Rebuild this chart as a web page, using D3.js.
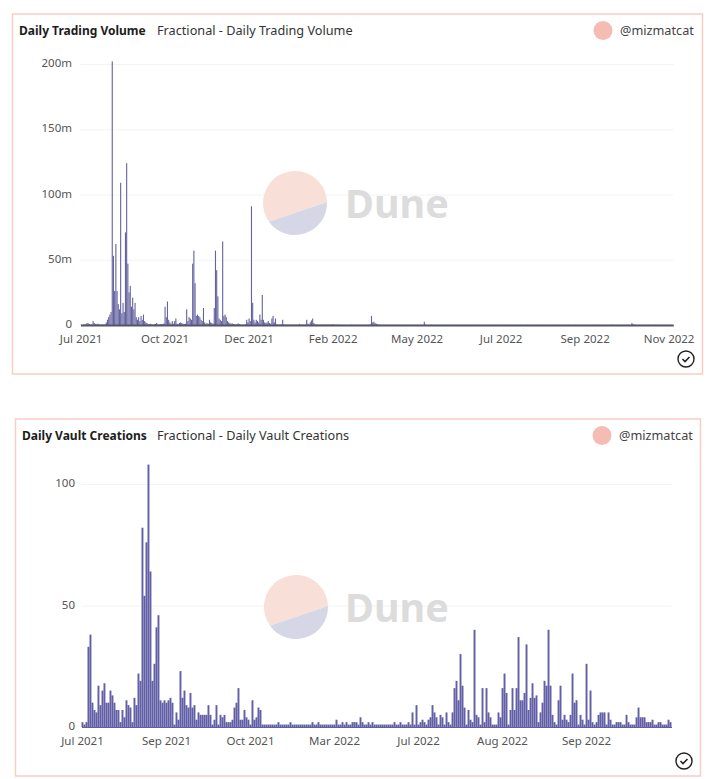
<!DOCTYPE html>
<html>
<head>
<meta charset="utf-8">
<script src="https://cdnjs.cloudflare.com/ajax/libs/d3/7.8.5/d3.min.js"></script>
<style>
body { margin: 0; background: #fff; }
text { font-family: "Noto Sans", sans-serif; }
.tick line { display: none; }
</style>
</head>
<body>
<div id="chart"></div>
<script>
// daily trading volume, in millions
var volumeValues = [
    .3,.2,.4,.3,.8,1.5,1.2,.6,.4,.5,3,1.5,.8,.6,1,.5,.4,.3,.4,.3,
    .6,2,4,6,8,10,202,53,26,62,26,16,12,109,9,17,10,71,124,47,
    25,30,14,21,12,17,6,4,6,3,7,4,8,3,2,1.5,.8,.6,1,.5,
    .4,.6,.8,1.5,.6,.4,.8,.6,.7,1.2,14,6,18,4,2,1,3,1,3,5,
    1,.8,1.5,2,1.5,1,.8,1,12,3,6,5,4,47,57,32,7,8,7,6,
    4,3,13,2,1,1.5,1,4,2,1.5,1,13,57,42,22,5,4,3,64,7,
    8,6,3,2,1.5,1,1.2,.8,.6,.5,.8,1.2,.6,.4,.3,.2,.3,.5,4,2,
    5,3,91,17,4,2,4,3,2,8,4,23,4,2,1.5,2,3,1.5,1,5,
    7,2,5,.5,.4,.3,.5,.3,4,.5,.3,.2,.3,.2,.2,.4,.3,.2,.3,.2,
    .3,.2,.8,.3,.2,.4,.2,.3,4,1,.5,2,3.5,5,1.5,.6,.4,.3,.2,.3,
    .2,.3,.2,.5,.3,.2,.4,.2,.3,.5,.6,.3,.2,.2,.4,.2,.2,.1,.2,.1,
    .2,.1,.1,.2,.1,.3,.1,.1,.2,.1,.1,.2,.1,.1,.1,.2,.1,.1,.2,.1,
    .3,.4,7,2,2.5,1.5,1,.6,.3,.2,.1,.1,.2,.1,.1,.1,.2,.1,.1,.1,
    .1,.1,.2,.1,.1,.1,.1,.2,.1,.1,.1,.1,.1,.1,.2,.1,.1,.1,.1,.1,
    .1,.1,.1,.2,.1,.1,2.5,.3,.1,.1,.1,.1,.2,.1,.1,.1,.1,.1,.1,.1,
    .1,.1,.1,.1,.1,.2,.1,.1,.1,.1,.1,.1,.1,.1,.1,.1,.1,.2,.1,.1,
    .1,.1,.1,.1,.2,.1,.1,.1,.1,.1,.1,.1,.1,.1,.1,.1,.1,.1,.1,.1,
    .1,.2,.1,.1,.1,.1,.1,.1,.1,.1,.1,.1,.1,.2,.1,.1,.1,.1,.1,.1,
    .1,.1,.1,.1,.1,.1,.2,.1,.1,.1,.1,.1,.1,.1,.1,.1,.1,.1,.1,.1,
    .1,.1,.1,.1,.2,.1,.1,.1,.1,.1,.1,.1,.1,.1,.1,.1,.1,.1,.2,.1,
    .1,.1,.1,.1,.1,.1,.1,.1,.1,.1,.1,.1,.2,.1,.1,.1,.1,.1,.1,.1,
    .1,.1,.1,.1,.1,.1,.1,.1,.2,.1,.1,.1,.1,.1,.1,.1,.1,.1,.1,.1,
    .1,.1,.2,.1,.1,.1,.1,.1,.1,.1,.1,.1,.1,.1,.1,.1,.1,.1,.1,1.5,
    .6,.3,.2,.1,.1,.1,.1,.1,.1,.1,.1,.1,.1,.2,.1,.1,.1,.1,.1,.1,
    .1,.1,.1,.1,.1,.1,.1,.1,.1,.1,.1,.1,.1,.1
];
var volumeTicks = ["Jul 2021", "Oct 2021", "Dec 2021", "Feb 2022", "May 2022", "Jul 2022", "Sep 2022", "Nov 2022"];
var volumeYTicks = [0, 50, 100, 150, 200];

// vaults created per day
var vaultValues = [
    2,1,2,33,38,10,7,6,17,9,15,18,10,10,15,13,10,7,7,2,
    7,4,11,9,8,2,12,9,22,19,82,54,76,108,64,19,26,41,46,11,
    10,11,10,11,12,10,1,6,3,23,12,15,9,8,14,8,9,3,6,5,
    5,5,5,9,5,1,3,9,1,5,4,5,2,2,2,3,8,10,16,3,
    3,7,4,3,1,11,3,4,8,7,1,1,1,1,1,1,1,1,2,1,
    1,1,1,1,2,1,1,1,1,1,1,1,1,1,1,2,1,1,2,1,
    1,1,1,1,1,1,1,3,1,1,2,1,2,1,1,2,2,2,1,4,
    2,1,1,2,1,2,1,1,1,1,1,1,1,1,1,1,2,1,1,2,
    1,1,1,2,1,6,1,9,1,2,3,2,1,3,4,9,6,4,1,5,
    4,1,6,2,1,6,16,19,11,30,17,8,1,7,3,2,40,5,4,1,
    16,2,16,6,4,1,1,1,6,4,16,22,14,1,7,16,7,16,37,11,
    11,14,34,7,12,18,12,13,2,6,10,19,17,40,17,5,2,1,11,17,
    3,5,3,2,5,22,10,11,1,5,3,1,26,3,15,2,1,2,5,6,
    6,6,1,6,3,1,1,2,2,2,1,1,5,2,1,1,1,4,8,4,
    4,4,2,2,2,3,1,1,2,2,1,1,1,3,2
];
var vaultTicks = ["Jul 2021", "Sep 2021", "Oct 2021", "Mar 2022", "Jul 2022", "Aug 2022", "Sep 2022"];
var vaultYTicks = [0, 50, 100];

var tickEvery = [70, 42];

var svg = d3.select("#chart").append("svg")
    .attr("width", 709)
    .attr("height", 779)
    .style("display", "block");

function plotPanel(p) {
    var g = svg.append("g");

    // card
    g.append("rect")
        .attr("x", p.box[0]).attr("y", p.box[1])
        .attr("width", p.box[2]).attr("height", p.box[3])
        .attr("fill", "#fff")
        .attr("stroke", "#f9cdc6")
        .attr("stroke-width", 1.5);

    // header
    g.append("text").attr("x", p.titleX).attr("y", p.headY)
        .attr("font-size", 12).attr("font-weight", 700).attr("fill", "#1c1c1c")
        .text(p.title);
    g.append("text").attr("x", 157).attr("y", p.headY)
        .attr("font-size", 12.7).attr("fill", "#333")
        .text(p.subtitle);
    g.append("circle").attr("cx", p.avatarX).attr("cy", p.headY - 4.5).attr("r", 9.5)
        .attr("fill", "#f5bcb3");
    g.append("text").attr("x", p.avatarX + 17).attr("y", p.headY)
        .attr("font-size", 12.7).attr("fill", "#444")
        .text("@mizmatcat");

    // Scales
    var indexes = d3.range(p.values.length);
    var x = d3.scaleBand()
        .domain(indexes)
        .range([p.left, p.left + p.values.length * p.step])
        .paddingInner(p.pad);
    var y = d3.scaleLinear()
        .domain(p.domain)
        .range([p.bottom, p.top]);

    // gridlines
    g.selectAll(".grid")
        .data(p.yTicks.slice(1))
        .enter()
        .append("line")
        .attr("x1", p.left).attr("x2", p.left + p.values.length * p.step)
        .attr("y1", function (d) { return y(d) + 0.5; })
        .attr("y2", function (d) { return y(d) + 0.5; })
        .attr("stroke", "#f3f3f3");

    // watermark
    var cx = p.markX, cy = p.markY, r = 32;
    var a0 = -0.03, a1 = 2.52; // chord ends, radians clockwise from east
    var pink = d3.path();
    pink.arc(cx, cy, r, a1, a0 + 2 * Math.PI);
    pink.closePath();
    var blue = d3.path();
    blue.arc(cx, cy, r, a0, a1);
    blue.closePath();
    g.append("path").attr("d", pink.toString()).attr("fill", "#f8dfd8");
    g.append("path").attr("d", blue.toString()).attr("fill", "#d6d7e6");
    g.append("text").attr("x", 345).attr("y", cy + 15)
        .attr("font-size", 39.5).attr("font-weight", 700).attr("fill", "#dcdcdc")
        .text("Dune");

    // bars
    g.selectAll(".bar")
        .data(p.values)
        .enter()
        .append("rect")
        .attr("class", "bar")
        .attr("x", function (d, i) { return x(i); })
        .attr("y", function (d) { return y(d); })
        .attr("width", x.bandwidth())
        .attr("height", function (d) { return p.bottom - y(d); })
        .attr("fill", p.barColor);

    // Axes
    var xAxis = d3.axisBottom(x)
        .tickValues(p.xTicks.map(function (d, i) { return i * p.every; }))
        .tickSize(0)
        .tickPadding(10)
        .tickFormat(function (d) { return p.xTicks[d / p.every]; });
    var xg = g.append("g")
        .attr("transform", "translate(0," + p.bottom + ")")
        .call(xAxis);
    xg.select(".domain").attr("stroke", p.axisColor).attr("stroke-width", p.axisWidth);
    xg.selectAll("text").attr("font-size", 11.5).attr("fill", "#555");

    var yg = g.append("g")
        .attr("transform", "translate(" + p.labelX + ",-1)")
        .call(d3.axisLeft(y).tickValues(p.yTicks).tickSize(0).tickPadding(0).tickFormat(p.yFormat));
    yg.select(".domain").remove();
    yg.selectAll("text").attr("font-size", 11.5).attr("fill", "#555");

    // check mark badge
    g.append("circle").attr("cx", p.check[0]).attr("cy", p.check[1]).attr("r", 8)
        .attr("fill", "#fff").attr("stroke", "#222").attr("stroke-width", 1.4);
    g.append("path")
        .attr("d", "M" + (p.check[0] - 3.5) + "," + p.check[1] + "l2.5,2.5l4.5,-4.5")
        .attr("fill", "none").attr("stroke", "#222").attr("stroke-width", 1.6);
}

plotPanel({
    box: [12.5, 14, 690, 360],
    title: "Daily Trading Volume",
    subtitle: "Fractional - Daily Trading Volume",
    titleX: 19, headY: 35, avatarX: 603,
    values: volumeValues, step: 1.2, pad: 0.08, every: tickEvery[0],
    left: 80.5, bottom: 325, top: 64, domain: [0, 200],
    xTicks: volumeTicks, yTicks: volumeYTicks,
    yFormat: function (d) { return d ? d + "m" : "0"; },
    labelX: 72, axisColor: "#55556a", axisWidth: 2,
    barColor: "#65639f",
    markX: 295, markY: 203,
    check: [686, 359]
});

plotPanel({
    box: [15.5, 419, 685, 357],
    title: "Daily Vault Creations",
    subtitle: "Fractional - Daily Vault Creations",
    titleX: 22, headY: 440, avatarX: 602,
    values: vaultValues, step: 2, pad: 0.04, every: tickEvery[1],
    left: 81.5, bottom: 727, top: 484, domain: [0, 100],
    xTicks: vaultTicks, yTicks: vaultYTicks,
    yFormat: function (d) { return d; },
    labelX: 75, axisColor: "#5f5da3", axisWidth: 1,
    barColor: "#625fa6",
    markX: 296, markY: 607,
    check: [684, 761]
});
</script>
</body>
</html>
